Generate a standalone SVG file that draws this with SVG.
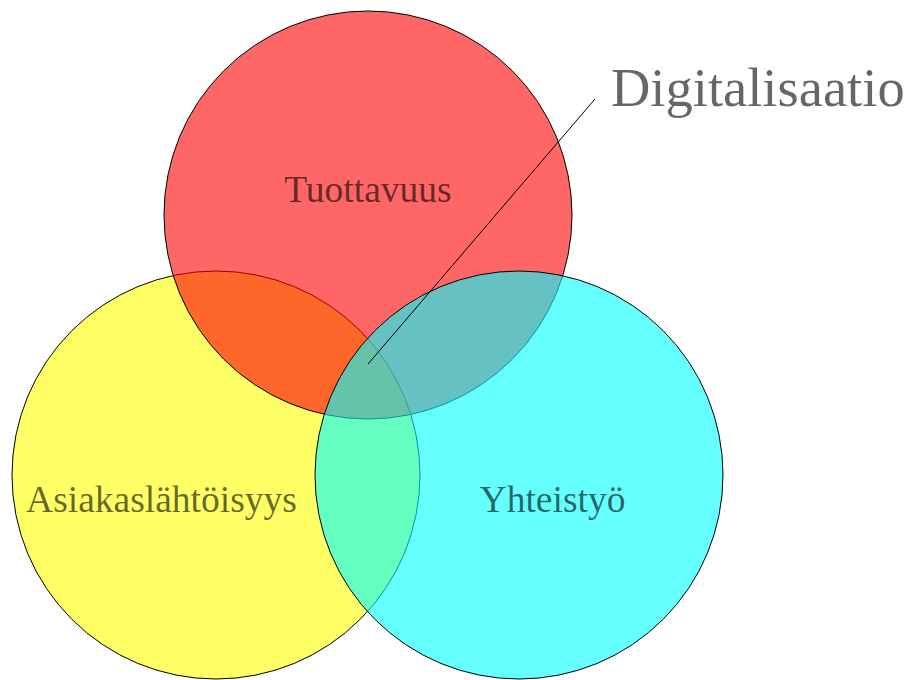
<svg xmlns="http://www.w3.org/2000/svg" width="909" height="680" viewBox="0 0 909 680">
<style>
.c{stroke:#000;stroke-width:1;fill-opacity:0.6}
.t{font-family:"Liberation Serif","Times New Roman",serif;fill:#000;fill-opacity:0.6;font-size:37.5px}
</style>
<rect width="909" height="680" fill="#fff"/>
<g id="asiakas"><circle class="c" cx="216" cy="475" r="204" fill="#ffff00"/></g>
<g id="tuottavuus"><circle class="c" cx="368" cy="215" r="204" fill="#ff0000"/></g>
<g id="yhteistyo"><circle class="c" cx="519" cy="475" r="204" fill="#00ffff"/></g>
<g id="connectors"><line x1="368" y1="364" x2="595" y2="99" stroke="#000" stroke-width="1"/></g>
<g id="labels">
<text class="t" x="368" y="202" text-anchor="middle">Tuottavuus</text>
<text class="t" x="161.5" y="512" text-anchor="middle">Asiakaslähtöisyys</text>
<text class="t" x="552.5" y="512" text-anchor="middle">Yhteistyö</text>
<text class="t" x="611" y="106" style="font-size:54.5px">Digitalisaatio</text>
</g>
</svg>
